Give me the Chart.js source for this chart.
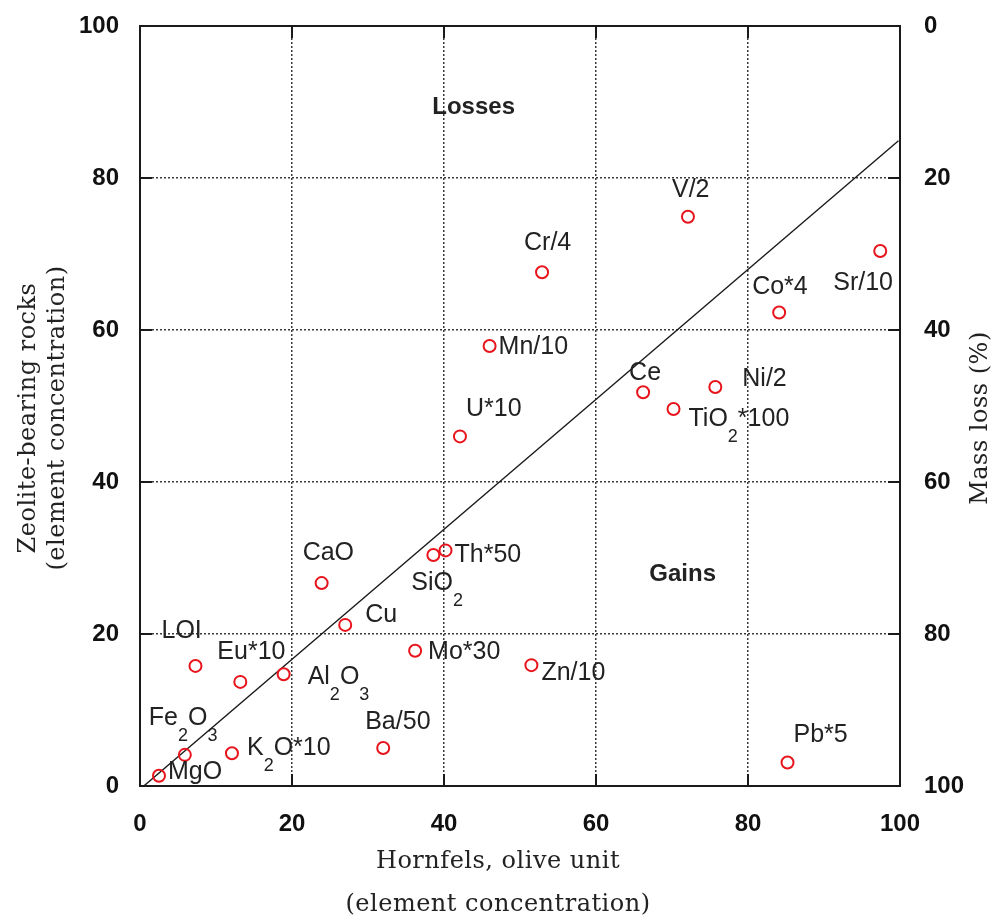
<!DOCTYPE html>
<html>
<head>
<meta charset="utf-8">
<script src="https://cdn.jsdelivr.net/npm/chart.js@4.4.0/dist/chart.umd.min.js"></script>
<style>
  html, body { margin: 0; padding: 0; background: #fff; }
</style>
</head>
<body>
<canvas id="chart" width="996" height="924"></canvas>
<script>
// isocon diagram: hornfels (olive unit) vs zeolite-bearing rocks
// "_n" in a name marks a subscript digit
const elements = ["MgO", "Fe_2O_3", "K_2O*10", "LOI", "Eu*10", "Al_2O_3", "Cu", "Ba/50",
  "CaO", "Mo*30", "SiO_2", "Th*50", "U*10", "Mn/10", "Zn/10", "Cr/4", "Ce", "TiO_2*100",
  "V/2", "Ni/2", "Co*4", "Pb*5", "Sr/10"];
const hornfels = [2.5, 5.9, 12.1, 7.3, 13.2, 18.9, 27.0, 32.0,
  23.9, 36.2, 38.6, 40.2, 42.1, 46.0, 51.5, 52.9, 66.2, 70.2,
  72.1, 75.7, 84.1, 85.2, 97.4];
const zeolite = [1.35, 4.1, 4.3, 15.8, 13.7, 14.7, 21.2, 5.0,
  26.7, 17.8, 30.4, 31.0, 46.0, 57.9, 15.9, 67.6, 51.8, 49.6,
  74.9, 52.5, 62.3, 3.1, 70.4];

// isocon line
const isoconX = [0.5, 99.8];
const isoconY = [0, 84.9];

const axisTicks = [0, 20, 40, 60, 80, 100];

// label placement, px offset from the marker (left edge, middle)
const labelOffsets = [[9, -4], [-36, -37], [15, -5], [-34, -35], [-23, -30], [24, 3], [20, -10], [-18, -26],
  [-19, -30], [13, 1], [-22, 28], [9, 5], [6, -27], [9, 1], [10, 8], [-18, -29], [-14, -19], [15, 10],
  [-16, -27], [27, -8], [-27, -25], [6, -27], [-47, 32]];

const regionNames = ["Losses", "Gains"];
const regionX = [43.9, 71.4];
const regionY = [89.3, 27.9];

const sans = '"Liberation Sans", Arial, sans-serif';
const serif = '"DejaVu Serif", "Liberation Serif", serif';
const labelFont = '25px ' + sans;
const subFont = '18px ' + sans;

function gridColor(c) {
  const v = c.tick ? c.tick.value : null;
  return (v === 0 || v === 100) ? 'rgba(0,0,0,0)' : '#3a3a3a';
}

// fixed axis box, no extra room kept for the end labels
function fixWidth(w) {
  return s => { s.width = w; s.paddingTop = 0; s.paddingBottom = 0; };
}

function drawRich(ctx, text, x, y) {
  const parts = text.split(/_(\d)/);
  let cx = x;
  parts.forEach((p, i) => {
    if (!p) return;
    const sub = i % 2 === 1;
    ctx.font = sub ? subFont : labelFont;
    ctx.fillText(p, cx, sub ? y + 18 : y);
    cx += ctx.measureText(p).width;
  });
}

const decor = {
  id: 'decor',
  afterDatasetsDraw(chart) {
    const { ctx, chartArea: a, scales } = chart;
    const sx = scales.x, sy = scales.y;
    ctx.save();

    // frame + short inner ticks
    ctx.strokeStyle = '#1a1a1a';
    ctx.lineWidth = 2;
    ctx.strokeRect(a.left, a.top, a.right - a.left, a.bottom - a.top);
    ctx.beginPath();
    axisTicks.slice(1, -1).forEach(v => {
      const px = sx.getPixelForValue(v), py = sy.getPixelForValue(v);
      ctx.moveTo(px, a.top); ctx.lineTo(px, a.top + 12);
      ctx.moveTo(px, a.bottom); ctx.lineTo(px, a.bottom - 12);
      ctx.moveTo(a.left, py); ctx.lineTo(a.left + 12, py);
      ctx.moveTo(a.right, py); ctx.lineTo(a.right - 12, py);
    });
    ctx.stroke();

    // point labels
    ctx.fillStyle = '#222';
    ctx.textAlign = 'left';
    ctx.textBaseline = 'middle';
    elements.forEach((name, i) => {
      const px = sx.getPixelForValue(hornfels[i]);
      const py = sy.getPixelForValue(zeolite[i]);
      drawRich(ctx, name, px + labelOffsets[i][0], py + labelOffsets[i][1]);
    });

    // Losses / Gains
    ctx.font = 'bold 24px ' + sans;
    ctx.textAlign = 'center';
    regionNames.forEach((t, i) => {
      ctx.fillText(t, sx.getPixelForValue(regionX[i]), sy.getPixelForValue(regionY[i]));
    });

    // axis titles
    ctx.fillStyle = '#222';
    ctx.font = '24px ' + serif;
    ctx.letterSpacing = '0.5px';
    const midY = (a.top + a.bottom) / 2 + 12;
    ctx.save();
    ctx.translate(29, midY);
    ctx.rotate(-Math.PI / 2);
    ctx.fillText('Zeolite-bearing rocks', 0, 0);
    ctx.fillText('(element concentration)', 0, 29);
    ctx.restore();

    ctx.save();
    ctx.translate(981, midY);
    ctx.rotate(-Math.PI / 2);
    ctx.fillText('Mass loss (%)', 0, 0);
    ctx.restore();

    const midX = (a.left + a.right) / 2 - 22;
    ctx.fillText('Hornfels, olive unit', midX, 862);
    ctx.fillText('(element concentration)', midX, 905);

    ctx.restore();
  }
};

const tickFont = { family: sans, size: 24, weight: 'bold' };

new Chart(document.getElementById('chart'), {
  type: 'scatter',
  data: {
    datasets: [
      {
        data: hornfels.map((v, i) => ({ x: v, y: zeolite[i] })),
        pointRadius: 6,
        pointBorderWidth: 2,
        borderColor: '#e8141c',
        backgroundColor: 'rgba(255,255,255,0)',
        order: 1
      },
      {
        type: 'line',
        data: isoconX.map((v, i) => ({ x: v, y: isoconY[i] })),
        borderColor: '#1a1a1a',
        borderWidth: 1.4,
        pointRadius: 0,
        fill: false,
        order: 2
      }
    ]
  },
  options: {
    responsive: false,
    animation: false,
    layout: { padding: { top: 26, left: 0, right: 0, bottom: 0 } },
    plugins: { legend: { display: false }, tooltip: { enabled: false } },
    scales: {
      x: {
        type: 'linear', min: 0, max: 100, position: 'bottom',
        afterFit: s => { s.height = 138; },
        ticks: { stepSize: 20, padding: 24, color: '#111', font: tickFont, maxRotation: 0 },
        grid: { color: gridColor, lineWidth: 1.5, drawTicks: false },
        border: { display: false, dash: [2, 2] }
      },
      y: {
        type: 'linear', min: 0, max: 100, position: 'left',
        afterFit: fixWidth(140),
        ticks: { stepSize: 20, padding: 21, color: '#111', font: tickFont },
        grid: { color: gridColor, lineWidth: 1.5, drawTicks: false },
        border: { display: false, dash: [2, 2] }
      },
      y2: {
        type: 'linear', min: 0, max: 100, reverse: true, position: 'right',
        afterFit: fixWidth(96),
        ticks: { stepSize: 20, padding: 24, color: '#111', font: tickFont },
        grid: { drawOnChartArea: false, drawTicks: false },
        border: { display: false }
      }
    }
  },
  plugins: [decor]
});
</script>
</body>
</html>
